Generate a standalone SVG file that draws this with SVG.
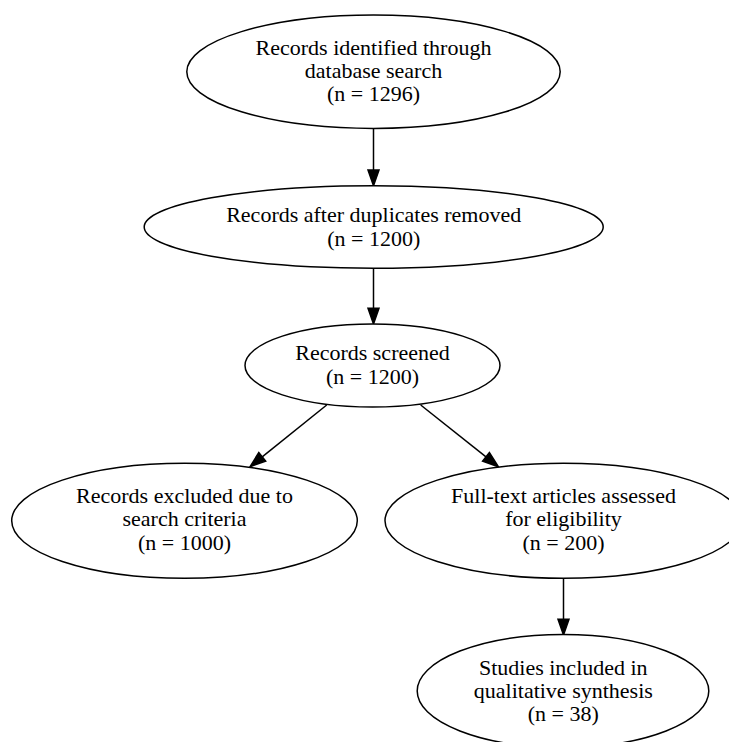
<svg xmlns="http://www.w3.org/2000/svg" width="729" height="742" viewBox="0 0 729 742">
<style>
.node ellipse{fill:#ffffff;stroke:#000000;stroke-width:1.5}
.node text{font-family:"Liberation Serif","Times New Roman",serif;font-size:22px;fill:#000000;text-anchor:middle}
.edge line{stroke:#000000;stroke-width:1.5}
.edge polygon{fill:#000000;stroke:#000000;stroke-width:1.5}
</style>
<rect x="0" y="0" width="729" height="742" fill="#ffffff"/>
<g id="edges">
<g class="edge"><line x1="373.5" y1="128.3" x2="373.5" y2="170"/><polygon points="373.5,185.7 368,170 379,170"/></g>
<g class="edge"><line x1="373.5" y1="268.3" x2="373.5" y2="308.3"/><polygon points="373.5,324 368,308.3 379,308.3"/></g>
<g class="edge"><line x1="326.7" y1="405" x2="262.2" y2="456.9"/><polygon points="250,466.7 265.7,461.1 258.8,452.6"/></g>
<g class="edge"><line x1="420.7" y1="405" x2="486" y2="456.9"/><polygon points="498.3,466.7 482.6,461.2 489.4,452.6"/></g>
<g class="edge"><line x1="563.5" y1="578.3" x2="563.5" y2="619.3"/><polygon points="563.5,635 558,619.3 569,619.3"/></g>
</g>
<g id="n1" class="node"><ellipse cx="373.5" cy="71.7" rx="186.7" ry="56.7"/><text x="373.5" y="54.5">Records identified through</text><text x="373.5" y="77.5">database search</text><text x="373.5" y="100.5">(n = 1296)</text></g>
<g id="n2" class="node"><ellipse cx="373.7" cy="227" rx="229.5" ry="41.3"/><text x="373.7" y="221.5">Records after duplicates removed</text><text x="373.7" y="245.5">(n = 1200)</text></g>
<g id="n3" class="node"><ellipse cx="372.5" cy="365.5" rx="127.5" ry="41.5"/><text x="372.5" y="360">Records screened</text><text x="372.5" y="384">(n = 1200)</text></g>
<g id="n4" class="node"><ellipse cx="184.5" cy="520.8" rx="172.8" ry="57.5"/><text x="184.5" y="503">Records excluded due to</text><text x="184.5" y="526.3">search criteria</text><text x="184.5" y="549.6">(n = 1000)</text></g>
<g id="n5" class="node"><ellipse cx="563.5" cy="520.8" rx="178.5" ry="57.5"/><text x="563.5" y="503">Full-text articles assessed</text><text x="563.5" y="526.3">for eligibility</text><text x="563.5" y="549.6">(n = 200)</text></g>
<g id="n6" class="node"><ellipse cx="563" cy="691" rx="145.8" ry="56.5"/><text x="563.3" y="674.5">Studies included in</text><text x="563.3" y="697.5">qualitative synthesis</text><text x="563.3" y="720.5">(n = 38)</text></g>
</svg>
